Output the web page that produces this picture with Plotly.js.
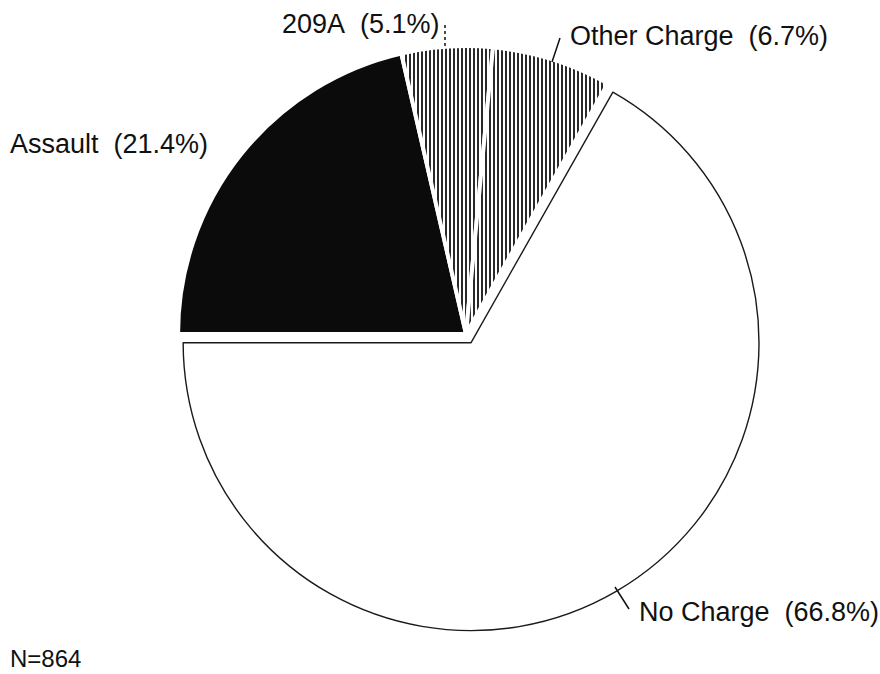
<!DOCTYPE html>
<html>
<head>
<meta charset="utf-8">
<script src="https://cdn.plot.ly/plotly-3.0.1.min.js"></script>
<style>
  html, body { margin: 0; padding: 0; background: #fff; }
  #chart { width: 880px; height: 674px; }
</style>
</head>
<body>
<div id="chart"></div>
<script>
// Data
const categories = ["No Charge", "Assault", "209A", "Other Charge"];
const percents = [66.8, 21.4, 5.1, 6.7];
const sampleSize = 864;

// Styles (not data)
const fillColors = ["#ffffff", "#0b0b0b", "#ffffff", "#ffffff"];
const patternShapes = ["", "", "|", "|"];
const lineColors = ["#1a1a1a", "#ffffff", "#ffffff", "#ffffff"];
const lineWidths = [1.4, 4, 4, 4];
const pulls = [0.035, 0, 0, 0];

const W = 880, H = 674;
const px = x => x / W;
const py = y => 1 - y / H;

const trace = {
  type: "pie",
  labels: categories,
  values: percents,
  sort: false,
  direction: "clockwise",
  rotation: 29.5,
  pull: pulls,
  textinfo: "none",
  hoverinfo: "label+percent",
  domain: { x: [px(168), px(764)], y: [py(632), py(36)] },
  marker: {
    colors: fillColors,
    line: { color: lineColors, width: lineWidths },
    pattern: {
      shape: patternShapes,
      fgcolor: "#111111",
      bgcolor: "#ffffff",
      size: 4,
      solidity: 0.45,
      fillmode: "replace"
    }
  }
};

// Label positions (left edge, vertical centre) in pixels
const labelPos = [[637, 612], [8, 144], [280, 24], [568, 36]];
const fontStyle = { family: "Liberation Sans, Arial, sans-serif", size: 27, color: "#111" };

const annotations = categories.map((c, i) => ({
  text: c + "\u00a0\u00a0(" + percents[i].toFixed(1) + "%)",
  xref: "paper", yref: "paper",
  x: px(labelPos[i][0]), y: py(labelPos[i][1]),
  xanchor: "left", yanchor: "middle",
  showarrow: false,
  font: fontStyle
}));
annotations.push({
  text: "N=" + sampleSize,
  xref: "paper", yref: "paper",
  x: px(8), y: py(658),
  xanchor: "left", yanchor: "middle",
  showarrow: false,
  font: Object.assign({}, fontStyle, { size: 24 })
});

const leader = (x0, y0, x1, y1, dash) => ({
  type: "line", xref: "paper", yref: "paper",
  x0: px(x0), y0: py(y0), x1: px(x1), y1: py(y1),
  line: { color: "#111", width: 1.5, dash: dash || "solid" }
});

const layout = {
  width: W, height: H,
  margin: { l: 0, r: 0, t: 0, b: 0 },
  paper_bgcolor: "#ffffff",
  plot_bgcolor: "#ffffff",
  showlegend: false,
  annotations: annotations,
  shapes: [
    leader(445, 25, 445, 48, "dot"),
    leader(560, 38, 552, 62),
    leader(615, 587, 629, 609)
  ]
};

Plotly.newPlot("chart", [trace], layout, { displayModeBar: false, staticPlot: true });
</script>
</body>
</html>
